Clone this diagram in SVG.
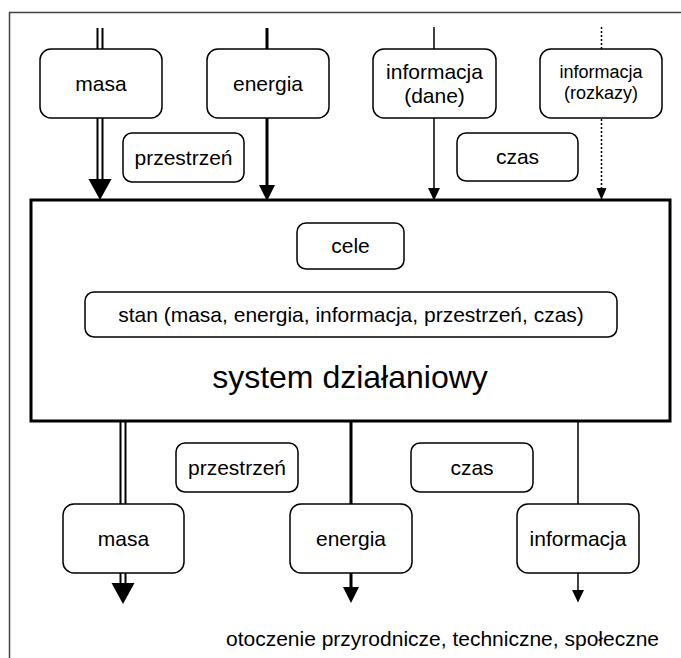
<svg xmlns="http://www.w3.org/2000/svg" width="681" height="658" viewBox="0 0 681 658">
  <style>
    .frame { fill: none; stroke: #444; stroke-width: 1.5; }
    .box { fill: #fff; stroke: #000; stroke-width: 1.5; }
    .main { fill: #fff; stroke: #000; stroke-width: 3; }
    .lbl { font-family: "Liberation Sans", Arial, sans-serif; font-size: 21px; fill: #000; text-anchor: middle; }
    .small { font-size: 18px; }
    .big { font-size: 32px; }
    .mass-outer { fill: none; stroke: #000; stroke-width: 7; }
    .mass-inner { fill: none; stroke: #fff; stroke-width: 3; }
    .energy { fill: none; stroke: #000; stroke-width: 3; }
    .info { fill: none; stroke: #000; stroke-width: 1.5; }
    .cmd { fill: none; stroke: #000; stroke-width: 1.5; stroke-dasharray: 2 2; }
  </style>
  <defs>
    <marker id="arrMass" markerUnits="userSpaceOnUse" orient="auto" refX="0" refY="0" overflow="visible">
      <path d="M0,-11.5 L21,0 L0,11.5 Z" fill="#000"/>
    </marker>
    <marker id="arrEnergy" markerUnits="userSpaceOnUse" orient="auto" refX="0" refY="0" overflow="visible">
      <path d="M0,-8 L16,0 L0,8 Z" fill="#000"/>
    </marker>
    <marker id="arrInfo" markerUnits="userSpaceOnUse" orient="auto" refX="0" refY="0" overflow="visible">
      <path d="M0,-6 L12.5,0 L0,6 Z" fill="#000"/>
    </marker>
    <marker id="arrCmd" markerUnits="userSpaceOnUse" orient="auto" refX="0" refY="0" overflow="visible">
      <path d="M0,-5 L12,0 L0,5 Z" fill="#000"/>
    </marker>
  </defs>

  <rect width="681" height="658" fill="#fff"/>

  <!-- surrounding environment frame -->
  <path class="frame" d="M9.5,658 V12.5 H681"/>

  <!-- flows into and out of the system -->
  <g id="connectors">
    <path class="mass-outer" d="M100,28 V179" marker-end="url(#arrMass)"/>
    <path class="mass-inner" d="M100,28 V179"/>
    <path class="energy" d="M267,28 V185" marker-end="url(#arrEnergy)"/>
    <path class="info" d="M434,27 V188" marker-end="url(#arrInfo)"/>
    <path class="cmd" d="M601.5,27 V188" marker-end="url(#arrCmd)"/>

    <path class="mass-outer" d="M123,421 V583" marker-end="url(#arrMass)"/>
    <path class="mass-inner" d="M123,421 V583"/>
    <path class="energy" d="M351,421 V587" marker-end="url(#arrEnergy)"/>
    <path class="info" d="M578,421 V590" marker-end="url(#arrInfo)"/>
  </g>

  <!-- inputs -->
  <g id="in-masa">
    <rect class="box" x="40" y="49" width="122" height="69" rx="11"/>
    <text class="lbl" x="101" y="91">masa</text>
  </g>
  <g id="in-energia">
    <rect class="box" x="207" y="49" width="122" height="69" rx="11"/>
    <text class="lbl" x="268" y="91">energia</text>
  </g>
  <g id="in-informacja-dane">
    <rect class="box" x="373" y="49" width="123" height="69" rx="11"/>
    <text class="lbl" x="434.5" y="79">informacja</text>
    <text class="lbl" x="434.5" y="103">(dane)</text>
  </g>
  <g id="in-informacja-rozkazy">
    <rect class="box" x="540" y="49" width="122" height="69" rx="11"/>
    <text class="lbl small" x="601" y="78">informacja</text>
    <text class="lbl small" x="601" y="99">(rozkazy)</text>
  </g>
  <g id="in-przestrzen">
    <rect class="box" x="123" y="133" width="121" height="49" rx="9"/>
    <text class="lbl" x="183.5" y="165">przestrzeń</text>
  </g>
  <g id="in-czas">
    <rect class="box" x="457" y="133" width="121" height="48" rx="9"/>
    <text class="lbl" x="517.5" y="164">czas</text>
  </g>

  <!-- the system itself -->
  <g id="system">
    <rect class="main" x="31" y="200" width="639" height="221"/>
    <text class="lbl big" x="350" y="388">system działaniowy</text>
  </g>
  <g id="cele">
    <rect class="box" x="297" y="223" width="107" height="46" rx="9"/>
    <text class="lbl" x="350.5" y="253">cele</text>
  </g>
  <g id="stan">
    <rect class="box" x="85" y="292" width="532" height="45" rx="9"/>
    <text class="lbl" x="351" y="322">stan (masa, energia, informacja, przestrzeń, czas)</text>
  </g>

  <!-- outputs -->
  <g id="out-przestrzen">
    <rect class="box" x="176" y="443" width="122" height="49" rx="9"/>
    <text class="lbl" x="237" y="475">przestrzeń</text>
  </g>
  <g id="out-czas">
    <rect class="box" x="411" y="443" width="122" height="49" rx="9"/>
    <text class="lbl" x="472" y="475">czas</text>
  </g>
  <g id="out-masa">
    <rect class="box" x="63" y="504" width="121" height="69" rx="11"/>
    <text class="lbl" x="123.5" y="546">masa</text>
  </g>
  <g id="out-energia">
    <rect class="box" x="290" y="504" width="122" height="69" rx="11"/>
    <text class="lbl" x="351" y="546">energia</text>
  </g>
  <g id="out-informacja">
    <rect class="box" x="517" y="504" width="122" height="69" rx="11"/>
    <text class="lbl" x="578" y="546">informacja</text>
  </g>

  <g id="otoczenie">
    <text class="lbl" x="442.5" y="646">otoczenie przyrodnicze, techniczne, społeczne</text>
  </g>
</svg>
